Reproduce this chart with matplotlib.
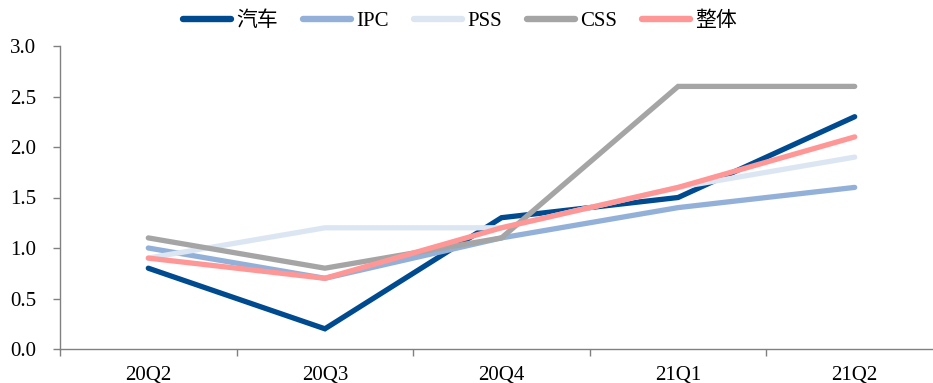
import matplotlib
matplotlib.use("Agg")
import matplotlib.pyplot as plt
import numpy as np

quarters = ["20Q2", "20Q3", "20Q4", "21Q1", "21Q2"]
series_names = ["汽车", "IPC", "PSS", "CSS", "整体"]
auto = [0.8, 0.2, 1.3, 1.5, 2.3]
ipc = [1.0, 0.7, 1.1, 1.4, 1.6]
pss = [0.9, 1.2, 1.2, 1.6, 1.9]
css = [1.1, 0.8, 1.1, 2.6, 2.6]
overall = [0.9, 0.7, 1.2, 1.6, 2.1]
y_ticks = [0.0, 0.5, 1.0, 1.5, 2.0, 2.5, 3.0]

colors = ["#004a8f", "#93b1d8", "#dce6f2", "#a5a5a5", "#ff9797"]

plt.rcParams['font.family'] = ['Liberation Serif', 'Noto Sans CJK SC']

fig = plt.figure(figsize=(9.33, 3.83), dpi=100)
ax = fig.add_axes([60 / 933, 34 / 383, 883 / 933, 303 / 383])

x = np.arange(len(quarters))
for vals, name, c in zip([auto, ipc, pss, css, overall], series_names, colors):
    ax.plot(x, vals, color=c, lw=3.8, solid_capstyle='round', solid_joinstyle='miter', label=name)

ax.set_xlim(-0.5, len(quarters) - 0.5)
ax.set_ylim(0, 3.0)
ax.set_yticks(y_ticks)
ax.set_yticklabels([f"{v:.1f}" for v in y_ticks], fontsize=15)
ax.set_xticks(x)
ax.set_xticklabels(quarters, fontsize=15)
ax.set_xticks(np.arange(-0.5, len(quarters), 1.0), minor=True)
ax.tick_params(axis='x', which='major', length=0, pad=12)
ax.tick_params(axis='x', which='minor', length=5, color='#808080', width=1)
ax.tick_params(axis='y', length=5, color='#808080', width=1, pad=12)

for s in ['top', 'right']:
    ax.spines[s].set_visible(False)
for s in ['left', 'bottom']:
    ax.spines[s].set_color('#808080')
    ax.spines[s].set_linewidth(1)

leg = fig.legend(loc='upper center', bbox_to_anchor=(0.493, 1.0), ncol=5, frameon=False,
                 fontsize=15, handlelength=2.3, columnspacing=1.2, handletextpad=0.25,
                 borderaxespad=0.15)
for h in leg.get_lines():
    h.set_linewidth(4.6)

fig.savefig("out.png", dpi=100)
